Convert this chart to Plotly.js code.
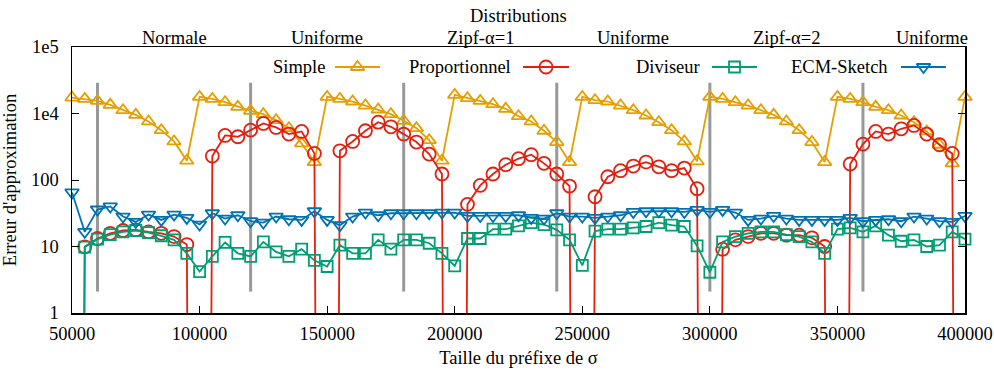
<!DOCTYPE html>
<html>
<head>
<meta charset="utf-8">
<script src="https://cdn.plot.ly/plotly-3.0.1.min.js"></script>
<style>
html,body{margin:0;padding:0;background:#fff;}
#chart{width:994px;height:371px;}
</style>
</head>
<body>
<div id="chart"></div>
<script>
// ---- Data (y in axis units: tick "1e4" sits at 1000, "1e5" at 10000) ----
const prefixSize = [50000,55000,60000,65000,70000,75000,80000,85000,90000,95000,
  100000,105000,110000,115000,120000,125000,130000,135000,140000,145000,
  150000,155000,160000,165000,170000,175000,180000,185000,190000,195000,
  200000,205000,210000,215000,220000,225000,230000,235000,240000,245000,
  250000,255000,260000,265000,270000,275000,280000,285000,290000,295000,
  300000,305000,310000,315000,320000,325000,330000,335000,340000,345000,
  350000,355000,360000,365000,370000,375000,380000,385000,390000,395000,400000];

const simple = [1738,1660,1549,1349,1122,955,759,562,380,195,
  1778,1660,1479,1259,1096,977,794,603,355,186,
  1778,1660,1514,1318,1148,977,776,603,398,195,
  1905,1698,1549,1380,1175,912,759,550,372,186,
  1778,1585,1514,1318,1122,933,741,562,380,191,
  1778,1660,1479,1318,1122,955,759,562,372,186,
  1778,1660,1479,1259,1122,933,741,537,339,178,1778];

const proportionnel = [0,9.9,13.2,15.8,17.4,17.8,16.6,15.8,14.1,10.7,
  0,229,468,447,562,708,617,490,537,251,
  0,275,380,550,741,631,490,372,245,123,
  0,43,83,123,170,209,240,178,123,81,
  0,56,112,138,162,186,158,138,151,74,
  0,9.1,12.6,14.1,15.8,15.8,14.8,14.8,13.5,10.0,
  0,174,347,537,490,589,661,490,339,251,0];

const diviseur = [0,9.8,12.9,15.1,16.6,17.4,16.2,14.5,12.6,7.9,
  4.2,7.1,11.5,7.9,7.1,11.7,8.3,7.1,9.1,6.2,
  5.0,10.5,7.9,7.9,12.6,9.1,12.6,12.6,11.2,7.9,
  5.1,13.2,13.2,18.2,18.2,20.4,22.9,21.4,17.8,12.6,
  5.2,17.0,18.2,18.2,19.1,20.0,22.9,20.9,20.0,10.2,
  4.1,11.7,14.1,15.8,16.6,16.6,15.1,14.1,11.7,7.9,
  18.2,19.1,16.6,20.4,14.8,12.0,12.6,10.0,10.5,16.6,12.9];

const ecmSketch = [65,16.6,36,40,28.2,23.4,30.2,25.1,30.2,26.9,
  21.4,31.6,26.3,29.5,24.0,22.9,28.2,25.7,25.1,33.9,
  25.1,20.9,28.2,32.4,29.5,31.6,31.6,31.6,31.6,32.4,
  32.4,28.8,28.8,28.8,28.8,29.5,26.9,26.3,31.6,28.2,
  28.2,26.9,28.2,29.5,33.1,33.9,33.9,33.9,33.1,35.5,
  33.1,35.5,32.4,25.1,26.3,28.8,26.3,25.1,25.1,25.1,
  25.1,26.9,24.0,25.1,25.7,24.0,28.2,26.3,24.0,23.4,28.8];

const distBoundaries = [60000,120000,180000,240000,300000,360000];
const distNames = ['Normale','Uniforme','Zipf-\u03b1=1','Uniforme','Zipf-\u03b1=2','Uniforme'];
const distCenters = [90000,150000,210000,270000,330000,387000];

const xTicks = [50000,100000,150000,200000,250000,300000,350000,400000];
const yTickVals = [1,10,100,1000,10000];
const yTickText = ['1','10','100','1e4','1e5'];

// ---- Styling ----
const FONT = 'Liberation Serif, Times New Roman, serif';
const LW = 1.8;
const series = [
  {name:'Simple', y:simple, color:'#E69F00', symbol:'triangle-up-open', size:12},
  {name:'Proportionnel', y:proportionnel, color:'#E51E10', symbol:'circle-open', size:13},
  {name:'Diviseur', y:diviseur, color:'#009E73', symbol:'square-open', size:11},
  {name:'ECM-Sketch', y:ecmSketch, color:'#0072B2', symbol:'triangle-down-open', size:12}
];
// zero error cannot sit on a log axis: it is drawn as a drop towards -infinity
const ZERO_FLOOR = 1e-30;

const traces = [];
// distribution change markers (grey bars)
const gx = [], gy = [];
distBoundaries.forEach(b => { gx.push(b, b, null); gy.push(2.1, 2900, null); });
traces.push({x:gx, y:gy, type:'scatter', mode:'lines', line:{color:'#999999', width:3},
  hoverinfo:'skip', showlegend:false});

series.forEach(s => {
  traces.push({
    x: prefixSize, y: s.y.map(v => v > 0 ? v : ZERO_FLOOR),
    type:'scatter', mode:'lines+markers', name:s.name, showlegend:false,
    line:{color:s.color, width:LW},
    marker:{symbol:s.symbol, size:s.size, color:s.color, line:{color:s.color, width:LW}},
    cliponaxis:false
  });
});

// gnuplot-style key: text, then a sample line with the symbol (drawn in a pixel-space overlay)
const keyRow = 67;
const keyItems = [ {textRight:327, x0:335, x1:380}, {textRight:513, x0:523, x1:569},
                   {textRight:702, x0:712, x1:757}, {textRight:890, x0:901, x1:946} ];
const annotations = [];
series.forEach((s, k) => {
  const it = keyItems[k];
  traces.push({
    x:[it.x0, (it.x0+it.x1)/2, it.x1], y:[keyRow,keyRow,keyRow], xaxis:'x3', yaxis:'y3',
    type:'scatter', mode:'lines+markers', showlegend:false, hoverinfo:'skip',
    line:{color:s.color, width:LW},
    marker:{symbol:s.symbol, size:s.size, color:s.color, opacity:[0,1,0], line:{color:s.color, width:LW}}
  });
  annotations.push({xref:'x3', yref:'y3', x:it.textRight, y:keyRow, text:s.name, showarrow:false,
    xanchor:'right', yanchor:'middle', font:{family:FONT, size:18.5, color:'#000'}});
});

// top distribution labels and title
distNames.forEach((n, k) => {
  annotations.push({xref:'x', yref:'paper', x:distCenters[k], y:1.0338, text:n, showarrow:false,
    xanchor:'center', yanchor:'middle', font:{family:FONT, size:18.5, color:'#000'}});
});
annotations.push({xref:'paper', yref:'paper', x:0.5, y:1.1165, text:'Distributions', showarrow:false,
  xanchor:'center', yanchor:'middle', font:{family:FONT, size:18.5, color:'#000'}});

const layout = {
  width:994, height:371,
  margin:{l:72, r:29, t:47, b:58},
  paper_bgcolor:'#fff', plot_bgcolor:'#fff',
  font:{family:FONT, size:18, color:'#000'},
  showlegend:false,
  xaxis:{
    type:'linear', range:[50000,400000], tickmode:'array', tickvals:xTicks,
    ticktext:xTicks.map(String), ticks:'inside', ticklen:7, tickcolor:'#000', tickwidth:1,
    showline:true, linecolor:'#000', linewidth:1.5, mirror:true, showgrid:false, zeroline:false,
    ticklabelstandoff:3, tickfont:{family:FONT, size:18.5},
    title:{text:'Taille du préfixe de \u03c3', font:{family:FONT, size:18.5}, standoff:8}
  },
  yaxis:{
    type:'log', range:[0,4], tickmode:'array', tickvals:yTickVals, ticktext:yTickText,
    ticks:'inside', ticklen:7, tickcolor:'#000', tickwidth:1,
    showline:true, linecolor:'#000', linewidth:1.5, mirror:'ticks', showgrid:false, zeroline:false,
    ticklabelstandoff:8, tickfont:{family:FONT, size:18.5},
    title:{text:"Erreur d'approximation", font:{family:FONT, size:18.5}, standoff:10}
  },
  xaxis3:{overlaying:'x', domain:[0,1], range:[72,965], visible:false, anchor:'y3', fixedrange:true},
  yaxis3:{overlaying:'y', domain:[0,1], range:[313,47], visible:false, anchor:'x3', fixedrange:true},
  annotations:annotations
};

Plotly.newPlot('chart', traces, layout, {staticPlot:true, displayModeBar:false});
</script>
</body>
</html>
